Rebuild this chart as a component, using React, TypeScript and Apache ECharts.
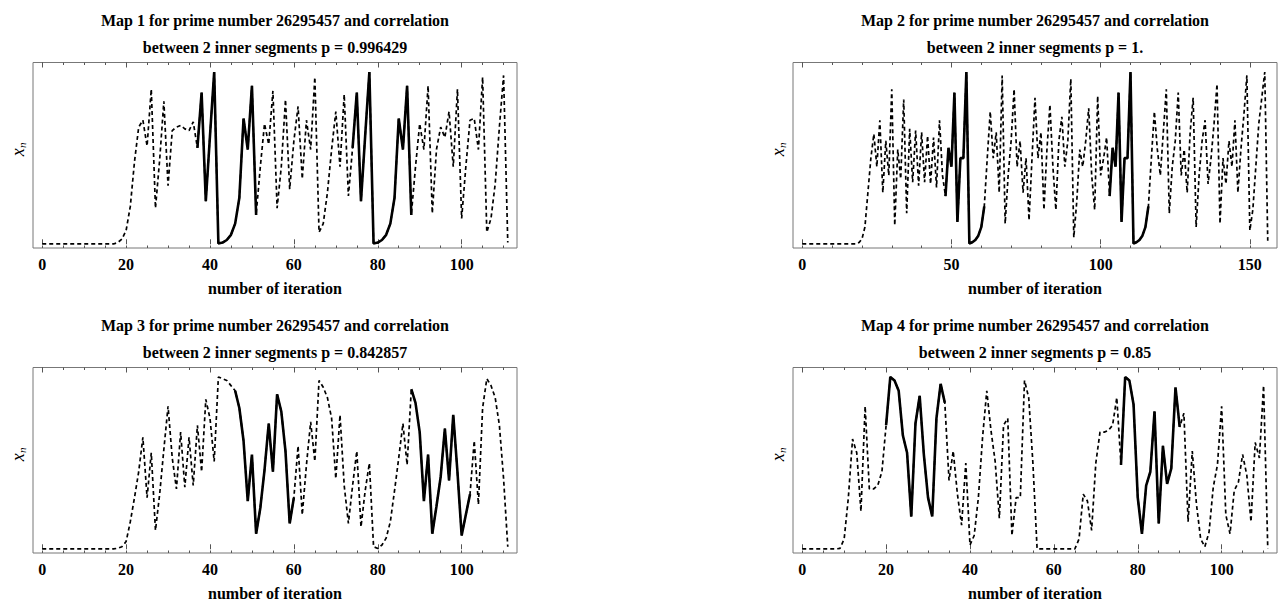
import React, { useEffect, useRef } from "react";
import * as echarts from "echarts";

// ---------- data ----------
const titleLines1 = [
  "Map 1 for prime number 26295457 and correlation",
  "Map 2 for prime number 26295457 and correlation",
  "Map 3 for prime number 26295457 and correlation",
  "Map 4 for prime number 26295457 and correlation",
];
const titleLines2 = [
  "between 2 inner segments p = 0.996429",
  "between 2 inner segments p = 1.",
  "between 2 inner segments p = 0.842857",
  "between 2 inner segments p = 0.85",
];
const xAxisTitle = "number of iteration";
const yAxisSymbol = "x";
const yAxisSubscript = "n";

// iterations start at 0; value index = iteration number
const map1Values = [
  0.002, 0.002, 0.002, 0.002, 0.002, 0.002, 0.002, 0.002, 0.002, 0.002, // 0-9
  0.002, 0.002, 0.002, 0.002, 0.002, 0.002, 0.002, 0.002, 0.01, 0.03, // 10-19
  0.08, 0.22, 0.48, 0.68, 0.72, 0.57, 0.9, 0.21, 0.49, 0.83, // 20-29
  0.34, 0.66, 0.68, 0.69, 0.67, 0.66, 0.71, 0.56, 0.88, 0.25, // 30-39
  0.63, 1.0, 0.005, 0.01, 0.025, 0.055, 0.12, 0.27, 0.73, 0.55, // 40-49
  0.92, 0.17, 0.45, 0.7, 0.58, 0.89, 0.21, 0.45, 0.84, 0.32, // 50-59
  0.6, 0.8, 0.38, 0.72, 0.55, 0.97, 0.07, 0.12, 0.3, 0.55, // 60-69
  0.77, 0.45, 0.87, 0.28, 0.56, 0.88, 0.25, 0.63, 1.0, 0.005, // 70-79
  0.01, 0.025, 0.055, 0.12, 0.27, 0.73, 0.55, 0.92, 0.17, 0.45, // 80-89
  0.7, 0.55, 0.92, 0.18, 0.55, 0.68, 0.62, 0.77, 0.45, 0.9, // 90-99
  0.15, 0.45, 0.72, 0.73, 0.55, 0.97, 0.07, 0.15, 0.35, 0.68, // 100-109
  0.98, 0.01, // 110-111
];
const map1Segments = [[37, 51], [74, 88]];

const map2Values = [
  0.002, 0.002, 0.002, 0.002, 0.002, 0.002, 0.002, 0.002, 0.002, 0.002, // 0-9
  0.002, 0.002, 0.002, 0.002, 0.002, 0.002, 0.002, 0.002, 0.002, 0.01, // 10-19
  0.03, 0.1, 0.3, 0.5, 0.64, 0.45, 0.72, 0.3, 0.6, 0.4, // 20-29
  0.9, 0.11, 0.55, 0.38, 0.84, 0.18, 0.67, 0.36, 0.66, 0.34, // 30-39
  0.65, 0.36, 0.63, 0.35, 0.62, 0.33, 0.72, 0.4, 0.28, 0.56, // 40-49
  0.45, 0.88, 0.13, 0.5, 0.5, 1.0, 0.005, 0.012, 0.025, 0.05, // 50-59
  0.1, 0.22, 0.5, 0.77, 0.5, 0.65, 0.3, 0.98, 0.12, 0.4, // 60-69
  0.6, 0.9, 0.45, 0.6, 0.3, 0.5, 0.14, 0.5, 0.85, 0.5, // 70-79
  0.65, 0.2, 0.55, 0.81, 0.45, 0.2, 0.6, 0.74, 0.45, 0.6, // 80-89
  0.96, 0.04, 0.25, 0.55, 0.45, 0.6, 0.79, 0.4, 0.2, 0.86, // 90-99
  0.4, 0.5, 0.62, 0.28, 0.56, 0.45, 0.88, 0.13, 0.5, 0.5, // 100-109
  1.0, 0.005, 0.012, 0.025, 0.05, 0.1, 0.22, 0.5, 0.77, 0.55, // 110-119
  0.4, 0.65, 0.9, 0.18, 0.45, 0.6, 0.88, 0.4, 0.55, 0.3, // 120-129
  0.65, 0.85, 0.1, 0.4, 0.6, 0.72, 0.35, 0.5, 0.7, 0.93, // 130-139
  0.12, 0.5, 0.35, 0.6, 0.45, 0.72, 0.3, 0.55, 0.75, 0.98, // 140-149
  0.08, 0.2, 0.45, 0.7, 0.85, 1.0, 0.02, // 150-156
];
const map2Segments = [[48, 61], [103, 116]];

const map3Values = [
  0.002, 0.002, 0.002, 0.002, 0.002, 0.002, 0.002, 0.002, 0.002, 0.002, // 0-9
  0.002, 0.002, 0.002, 0.002, 0.002, 0.002, 0.002, 0.002, 0.006, 0.015, // 10-19
  0.045, 0.16, 0.3, 0.45, 0.65, 0.3, 0.56, 0.11, 0.32, 0.58, // 20-29
  0.83, 0.53, 0.35, 0.68, 0.36, 0.65, 0.37, 0.72, 0.45, 0.87, // 30-39
  0.76, 0.51, 1.0, 0.99, 0.98, 0.95, 0.92, 0.82, 0.63, 0.28, // 40-49
  0.55, 0.09, 0.24, 0.46, 0.73, 0.45, 0.9, 0.8, 0.57, 0.15, // 50-59
  0.3, 0.6, 0.2, 0.49, 0.74, 0.51, 0.98, 0.94, 0.88, 0.76, // 60-69
  0.41, 0.78, 0.37, 0.15, 0.37, 0.57, 0.13, 0.34, 0.5, 0.015, // 70-79
  0.005, 0.025, 0.065, 0.16, 0.34, 0.53, 0.73, 0.49, 0.93, 0.85, // 80-89
  0.68, 0.28, 0.55, 0.09, 0.25, 0.42, 0.7, 0.4, 0.78, 0.45, // 90-99
  0.08, 0.2, 0.32, 0.63, 0.26, 0.82, 0.99, 0.95, 0.88, 0.72, // 100-109
  0.41, 0.015, // 110-111
];
const map3Segments = [[46, 60], [88, 102]];

const map4Values = [
  0.002, 0.002, 0.002, 0.002, 0.002, 0.002, 0.002, 0.002, 0.002, 0.005, // 0-9
  0.06, 0.3, 0.64, 0.56, 0.22, 0.83, 0.35, 0.35, 0.37, 0.45, // 10-19
  0.72, 1.0, 0.98, 0.92, 0.66, 0.56, 0.19, 0.73, 0.89, 0.55, // 20-29
  0.3, 0.19, 0.76, 0.96, 0.85, 0.4, 0.57, 0.32, 0.14, 0.5, // 30-39
  0.025, 0.08, 0.3, 0.65, 0.92, 0.69, 0.51, 0.18, 0.72, 0.76, // 40-49
  0.08, 0.3, 0.3, 0.98, 0.88, 0.5, 0.003, 0.002, 0.002, 0.002, // 50-59
  0.002, 0.002, 0.002, 0.002, 0.002, 0.002, 0.06, 0.32, 0.28, 0.11, // 60-69
  0.5, 0.68, 0.68, 0.69, 0.72, 0.88, 0.49, 1.0, 0.98, 0.84, // 70-79
  0.3, 0.09, 0.37, 0.45, 0.8, 0.15, 0.6, 0.38, 0.47, 0.94, // 80-89
  0.71, 0.79, 0.16, 0.57, 0.26, 0.06, 0.015, 0.1, 0.36, 0.49, // 90-99
  0.83, 0.2, 0.09, 0.34, 0.39, 0.55, 0.43, 0.16, 0.62, 0.53, // 100-109
  0.95, 0.005, // 110-111
];
const map4Segments = [[20, 34], [76, 90]];

const ticksA = [0, 20, 40, 60, 80, 100];
const minorTicksA = [0, 5, 10, 15, 20, 25, 30, 35, 40, 45, 50, 55, 60, 65, 70, 75, 80, 85, 90, 95, 100, 105, 110];
const ticksB = [0, 50, 100, 150];
const minorTicksB = [0, 10, 20, 30, 40, 50, 60, 70, 80, 90, 100, 110, 120, 130, 140, 150];

// ---------- layout ----------
const FONT = "Liberation Serif";
const PW = 484;
const PH = 185.5;
const panelLayout = [
  { left: 33, top: 62.5 },
  { left: 793, top: 62.5 },
  { left: 33, top: 367.5 },
  { left: 793, top: 367.5 },
];
const panels = [
  { values: map1Values, segments: map1Segments, ticks: ticksA, minor: minorTicksA, xmin: -2.2, xmax: 113.2 },
  { values: map2Values, segments: map2Segments, ticks: ticksB, minor: minorTicksB, xmin: -3.1, xmax: 159.1 },
  { values: map3Values, segments: map3Segments, ticks: ticksA, minor: minorTicksA, xmin: -2.2, xmax: 113.2 },
  { values: map4Values, segments: map4Segments, ticks: ticksA, minor: minorTicksA, xmin: -2.2, xmax: 113.2 },
];
const YMIN = -0.0215;
const YMAX = 1.055;
const TICK_COLOR = "#555";

function buildOption() {
  const grid: any[] = [];
  const xAxis: any[] = [];
  const yAxis: any[] = [];
  const series: any[] = [];
  const graphic: any[] = [];

  panels.forEach((p, i) => {
    const L = panelLayout[i];
    grid.push({
      left: L.left,
      top: L.top,
      width: PW,
      height: PH,
      show: true,
      borderColor: "#777",
      borderWidth: 1,
      backgroundColor: "transparent",
    });
    const base = xAxis.length;
    const common = {
      gridIndex: i,
      type: "value",
      min: p.xmin,
      max: p.xmax,
      axisLine: { show: false },
      splitLine: { show: false },
    };
    xAxis.push({
      ...common,
      position: "bottom",
      axisTick: { show: true, inside: true, length: 5, customValues: p.ticks, lineStyle: { color: TICK_COLOR, width: 1 } },
      axisLabel: {
        show: true,
        customValues: p.ticks,
        margin: 8,
        color: "#000",
        fontFamily: FONT,
        fontWeight: "bold",
        fontSize: 16,
      },
      name: xAxisTitle,
      nameLocation: "middle",
      nameGap: 32,
      nameTextStyle: { color: "#000", fontFamily: FONT, fontWeight: "bold", fontSize: 16 },
    });
    xAxis.push({
      ...common,
      position: "bottom",
      axisTick: { show: true, inside: true, length: 2.5, customValues: p.minor, lineStyle: { color: TICK_COLOR, width: 1 } },
      axisLabel: { show: false },
    });
    xAxis.push({
      ...common,
      position: "top",
      axisTick: { show: true, inside: true, length: 5, customValues: p.ticks, lineStyle: { color: TICK_COLOR, width: 1 } },
      axisLabel: { show: false },
    });
    xAxis.push({
      ...common,
      position: "top",
      axisTick: { show: true, inside: true, length: 2.5, customValues: p.minor, lineStyle: { color: TICK_COLOR, width: 1 } },
      axisLabel: { show: false },
    });

    yAxis.push({
      gridIndex: i,
      type: "value",
      min: YMIN,
      max: YMAX,
      axisLine: { show: false },
      axisTick: { show: false },
      axisLabel: { show: false },
      splitLine: { show: false },
    });

    series.push({
      type: "line",
      xAxisIndex: base,
      yAxisIndex: i,
      data: p.values.map((v, n) => [n, v]),
      showSymbol: false,
      symbol: "none",
      silent: true,
      lineStyle: { color: "#000", width: 1.7, type: [4, 3] },
      z: 2,
    });
    p.segments.forEach(([a, b]) => {
      const seg: number[][] = [];
      for (let n = a; n <= b; n++) seg.push([n, p.values[n]]);
      series.push({
        type: "line",
        xAxisIndex: base,
        yAxisIndex: i,
        data: seg,
        showSymbol: false,
        symbol: "none",
        silent: true,
        lineStyle: { color: "#000", width: 2.6, type: "solid" },
        z: 3,
      });
    });

    const cx = L.left + PW / 2;
    const titleStyle = { fontFamily: FONT, fontWeight: "bold", fontSize: 16, fill: "#000", textAlign: "center", textVerticalAlign: "middle" };
    graphic.push({ type: "text", x: cx, y: L.top - 42.5, style: { ...titleStyle, text: titleLines1[i] } });
    graphic.push({ type: "text", x: cx, y: L.top - 15.5, style: { ...titleStyle, text: titleLines2[i] } });
    graphic.push({
      type: "group",
      x: L.left - 15,
      y: L.top + PH / 2 - 3,
      rotation: Math.PI / 2,
      children: [
        { type: "text", x: 0, y: 0, style: { text: yAxisSymbol, fontFamily: FONT, fontStyle: "italic", fontSize: 18, fill: "#000", textAlign: "center", textVerticalAlign: "middle" } },
        { type: "text", x: 7, y: 4, style: { text: yAxisSubscript, fontFamily: FONT, fontStyle: "italic", fontSize: 11, fill: "#000", textAlign: "center", textVerticalAlign: "middle" } },
      ],
    });
  });

  return {
    animation: false,
    backgroundColor: "#ffffff",
    grid,
    xAxis,
    yAxis,
    series,
    graphic,
  };
}

export default function App() {
  const ref = useRef<HTMLDivElement>(null);
  useEffect(() => {
    if (!ref.current) return;
    const chart = echarts.init(ref.current, undefined, { renderer: "svg" });
    chart.setOption(buildOption() as any);
    return () => chart.dispose();
  }, []);
  return (
    <div
      ref={ref}
      style={{ position: "fixed", left: 0, top: 0, width: 1282, height: 602, background: "#fff" }}
    />
  );
}
